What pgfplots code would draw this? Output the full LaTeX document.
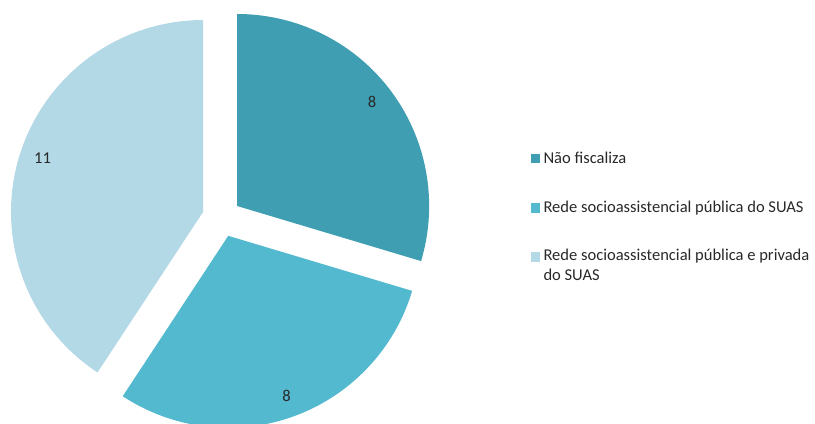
\documentclass[border=0pt]{standalone}
\usepackage{pgfplots}
\pgfplotsset{compat=1.18}
\usepackage{pgfplotstable}
\usepackage{fontspec}
\setmainfont{Carlito}
\definecolor{c1}{RGB}{64,158,178}
\definecolor{c2}{RGB}{83,185,207}
\definecolor{c3}{RGB}{180,217,230}
\definecolor{txt}{RGB}{40,40,40}
\pgfplotstableread{
idx value
0 8
1 8
2 11
}\piedata
\begin{document}
\begin{tikzpicture}
\pgfplotstablegetelem{0}{value}\of\piedata \pgfmathsetmacro{\va}{\pgfplotsretval}
\pgfplotstablegetelem{1}{value}\of\piedata \pgfmathsetmacro{\vb}{\pgfplotsretval}
\pgfplotstablegetelem{2}{value}\of\piedata \pgfmathsetmacro{\vc}{\pgfplotsretval}
\pgfmathsetmacro{\tot}{\va+\vb+\vc}
\pgfmathsetmacro{\aS}{90}
\pgfmathsetmacro{\aE}{90-360*\va/\tot}
\pgfmathsetmacro{\bE}{\aE-360*\vb/\tot}
\pgfmathsetmacro{\cE}{\bE-360*\vc/\tot}
\pgfmathsetmacro{\am}{(\aS+\aE)/2}
\pgfmathsetmacro{\bm}{(\aE+\bE)/2}
\pgfmathsetmacro{\cm}{(\bE+\cE)/2}
\def\cx{221.6}\def\cy{206.4}\def\dd{19.4}\def\rr{192}\def\lr{190}
\def\fs{\fontsize{16.6}{19.5}\selectfont}
\begin{axis}[width=815bp,height=424bp,scale only axis,xmin=0,xmax=815,ymin=0,ymax=424,hide axis,clip=true]
\coordinate (LL) at (axis cs:0,0);
\coordinate (UR) at (axis cs:815,424);
\fill[c1] (axis cs:{\cx+\dd*cos(\am)},{\cy+\dd*sin(\am)}) -- +(\aS:\rr bp) arc[start angle=\aS,end angle=\aE,radius=\rr bp] -- cycle;
\fill[c2] (axis cs:{\cx+\dd*cos(\bm)},{\cy+\dd*sin(\bm)}) -- +(\aE:\rr bp) arc[start angle=\aE,end angle=\bE,radius=\rr bp] -- cycle;
\fill[c3] (axis cs:{\cx+\dd*cos(\cm)},{\cy+\dd*sin(\cm)}) -- +(\bE:\rr bp) arc[start angle=\bE,end angle=\cE,radius=\rr bp] -- cycle;
\node[txt,font=\fs] at (axis cs:{\cx+\lr*cos(\am)-2},{\cy+\lr*sin(\am)+2}) {8};
\node[txt,font=\fs] at (axis cs:{\cx+\lr*cos(\bm)},{\cy+\lr*sin(\bm)}) {8};
\node[txt,font=\fs] at (axis cs:{\cx+\lr*cos(\cm)+3},{\cy+\lr*sin(\cm)+5}) {11};
% legend
\fill[c1] (axis cs:530.8,{424-163.3}) rectangle +(9.6bp,9.6bp);
\fill[c2] (axis cs:530.8,{424-212.7}) rectangle +(9.6bp,9.6bp);
\fill[c3] (axis cs:530.8,{424-261.7}) rectangle +(9.6bp,9.6bp);
\node[txt,anchor=base west,inner sep=0pt,font=\fs] at (axis cs:543.3,{424-164}) {Não fiscaliza};
\node[txt,anchor=base west,inner sep=0pt,font=\fs] at (axis cs:543.3,{424-212.7}) {Rede socioassistencial pública do SUAS};
\node[txt,anchor=base west,inner sep=0pt,font=\fs] at (axis cs:543.3,{424-260.7}) {Rede socioassistencial pública e privada};
\node[txt,anchor=base west,inner sep=0pt,font=\fs] at (axis cs:543.3,{424-280.2}) {do SUAS};
\end{axis}
\pgfresetboundingbox
\path[use as bounding box] (LL) rectangle (UR);
\end{tikzpicture}
\end{document}
